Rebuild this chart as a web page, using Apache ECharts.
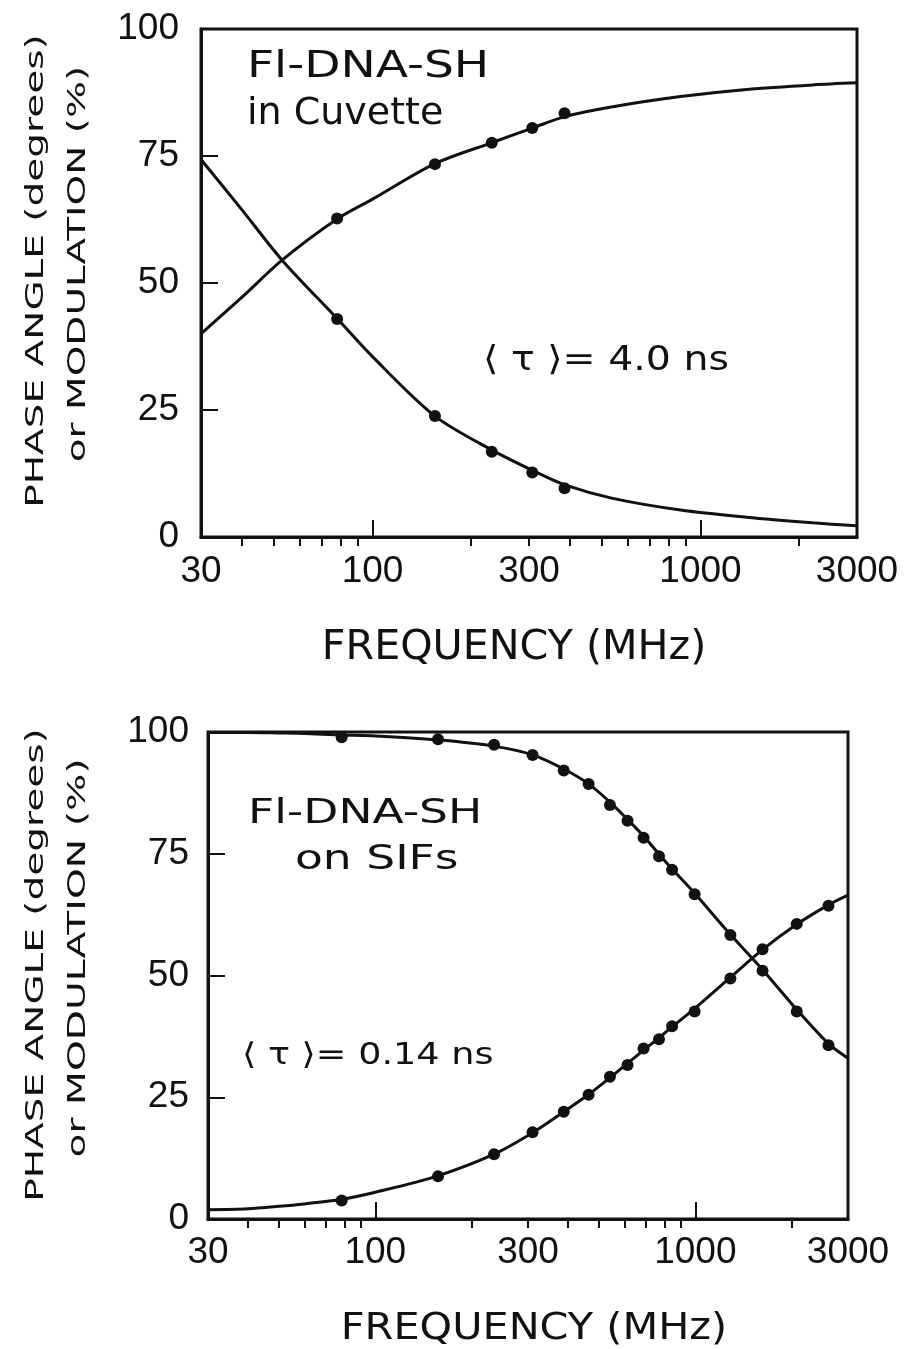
<!DOCTYPE html>
<html>
<head>
<meta charset="utf-8">
<script src="https://cdn.jsdelivr.net/npm/echarts@6.0.0/dist/echarts.min.js"></script>
<style>
  html, body { margin: 0; padding: 0; background: #fff; }
  #chart { width: 908px; height: 1349px; }
</style>
</head>
<body>
<div id="chart"></div>
<script>
// ---------- data ----------
// top panel: Fl-DNA-SH in cuvette
const TOP_CURVE_FREQ = [30, 40, 53, 78, 100, 155, 233, 310, 388, 540, 870, 1380, 2200, 3000];
const TOP_PHASE_CURVE = [40.0, 47.2, 54.5, 62.6, 66.5, 73.5, 77.7, 80.6, 82.8, 84.7, 86.7, 88.1, 89.0, 89.4];
const TOP_MOD_CURVE = [74.3, 64.4, 54.5, 43.0, 35.5, 23.8, 17.0, 13.0, 10.2, 7.6, 5.3, 3.9, 2.8, 2.2];
const TOP_DATA_FREQ = [78, 155, 231, 307, 385];
const TOP_PHASE_DATA = [62.7, 73.4, 77.6, 80.5, 83.4];
const TOP_MOD_DATA = [42.9, 23.8, 16.8, 12.7, 9.6];

// bottom panel: Fl-DNA-SH on SIFs
const BOT_CURVE_FREQ = [30, 40, 50, 60, 78, 100, 156, 235, 310, 388, 465, 541, 615, 690, 770, 848, 995, 1287, 1622, 2075, 2607, 3000];
const BOT_PHASE_CURVE = [1.9, 2.1, 2.6, 3.1, 4.0, 5.5, 8.8, 13.3, 17.7, 22.0, 25.6, 29.0, 32.0, 34.7, 37.2, 39.5, 43.2, 49.6, 55.3, 60.5, 64.5, 66.5];
const BOT_MOD_CURVE = [99.9, 99.9, 99.8, 99.7, 99.4, 99.2, 98.4, 97.1, 95.3, 92.4, 89.3, 85.6, 82.0, 78.6, 74.9, 71.8, 66.9, 58.4, 51.2, 43.0, 36.0, 33.0];
const BOT_DATA_FREQ = [78.5, 157, 235, 310, 388, 464, 541, 614, 689, 770, 846, 995, 1287, 1622, 2075, 2607];
const BOT_PHASE_DATA = [3.8, 8.8, 13.3, 17.8, 22.0, 25.5, 29.2, 31.6, 35.0, 36.9, 39.6, 42.6, 49.4, 55.4, 60.6, 64.3];
const BOT_MOD_DATA = [98.9, 98.5, 97.4, 95.3, 92.1, 89.3, 85.0, 81.8, 78.3, 74.5, 71.7, 66.7, 58.3, 51.0, 42.6, 35.7];

// axis ticks
const X_LABELS = [30, 100, 300, 1000, 3000];
const X_MAJOR_TICKS = [100, 1000];
const X_MINOR_TICKS = [40, 50, 60, 70, 80, 90, 200, 300, 400, 500, 600, 700, 800, 900, 2000];

// ---------- helpers ----------
const zip = (xs, ys) => xs.map((x, i) => [x, ys[i]]);
const INK = '#111';
const TICK_FONT = 'Liberation Sans';

function mainX(gridIndex, labelMargin) {
  return {
    type: 'log', logBase: 10, gridIndex, min: 30, max: 3000,
    axisLine: { show: true, onZero: false, lineStyle: { color: INK, width: 3 } },
    axisTick: { show: true, inside: true, length: 17, customValues: X_MAJOR_TICKS, lineStyle: { color: INK, width: 2 } },
    minorTick: { show: false },
    axisLabel: { show: true, customValues: X_LABELS, margin: labelMargin, color: INK, fontSize: 37, fontFamily: TICK_FONT,
                 formatter: v => String(Math.round(v)) },
    splitLine: { show: false }
  };
}
function minorX(gridIndex) {
  return {
    type: 'log', logBase: 10, gridIndex, min: 30, max: 3000,
    axisLine: { show: false },
    axisTick: { show: true, inside: true, length: 9, customValues: X_MINOR_TICKS, lineStyle: { color: INK, width: 2 } },
    axisLabel: { show: false },
    splitLine: { show: false }
  };
}
function yAx(gridIndex, margin) {
  return {
    type: 'value', gridIndex, min: 0, max: 100, interval: 25,
    axisLine: { show: true, onZero: false, lineStyle: { color: INK, width: 3 } },
    axisTick: { show: true, inside: true, length: 17, lineStyle: { color: INK, width: 2 } },
    axisLabel: { show: true, margin, color: INK, fontSize: 37, fontFamily: TICK_FONT, padding: [8, 0, 0, 0] },
    splitLine: { show: false }
  };
}
function curve(xi, yi, xs, ys) {
  return { type: 'line', xAxisIndex: xi, yAxisIndex: yi, data: zip(xs, ys), smooth: 0.3,
           showSymbol: false, symbol: 'none', lineStyle: { color: INK, width: 3 }, silent: true, z: 3 };
}
function dots(xi, yi, xs, ys) {
  return { type: 'scatter', xAxisIndex: xi, yAxisIndex: yi, data: zip(xs, ys), symbol: 'circle', symbolSize: 12,
           itemStyle: { color: INK, opacity: 1 }, silent: true, z: 4 };
}
function txt(x, y, text, size, opts) {
  const o = Object.assign({ align: 'left', rot: 0, sx: 1 }, opts || {});
  return {
    type: 'text', x, y, rotation: o.rot, scaleX: o.sx, z: 10, silent: true,
    style: { text, font: size + 'px "DejaVu Sans"', fill: INK,
             textAlign: o.align, align: o.align, textVerticalAlign: 'middle', verticalAlign: 'middle' }
  };
}

const chart = echarts.init(document.getElementById('chart'), null, { renderer: 'canvas', width: 908, height: 1349 });
const R90 = Math.PI / 2;

chart.setOption({
  animation: false,
  backgroundColor: '#fff',
  grid: [
    { left: 201, top: 29, width: 656, height: 508, show: true, borderColor: INK, borderWidth: 3, backgroundColor: 'transparent' },
    { left: 208, top: 732, width: 640, height: 487, show: true, borderColor: INK, borderWidth: 3, backgroundColor: 'transparent' }
  ],
  xAxis: [mainX(0, 16), minorX(0), mainX(1, 15), minorX(1)],
  yAxis: [yAx(0, 22), yAx(1, 19)],
  series: [
    curve(0, 0, TOP_CURVE_FREQ, TOP_PHASE_CURVE),
    curve(0, 0, TOP_CURVE_FREQ, TOP_MOD_CURVE),
    dots(0, 0, TOP_DATA_FREQ, TOP_PHASE_DATA),
    dots(0, 0, TOP_DATA_FREQ, TOP_MOD_DATA),
    curve(2, 1, BOT_CURVE_FREQ, BOT_PHASE_CURVE),
    curve(2, 1, BOT_CURVE_FREQ, BOT_MOD_CURVE),
    dots(2, 1, BOT_DATA_FREQ, BOT_PHASE_DATA),
    dots(2, 1, BOT_DATA_FREQ, BOT_MOD_DATA)
  ],
  graphic: [
    // y-axis titles
    txt(36, 271, 'PHASE ANGLE (degrees)', 25, { align: 'center', rot: R90, sx: 1.56 }),
    txt(78, 264, 'or MODULATION (%)', 25, { align: 'center', rot: R90, sx: 1.56 }),
    txt(36, 965, 'PHASE ANGLE (degrees)', 25, { align: 'center', rot: R90, sx: 1.56 }),
    txt(78, 958, 'or MODULATION (%)', 25, { align: 'center', rot: R90, sx: 1.57 }),
    // x-axis titles
    txt(514, 649, 'FREQUENCY (MHz)', 40, { align: 'center', sx: 1.03 }),
    txt(534, 1329, 'FREQUENCY (MHz)', 38, { align: 'center', sx: 1.09 }),
    // annotations, top
    txt(247, 67, 'Fl-DNA-SH', 38, { sx: 1.24 }),
    txt(247, 114, 'in Cuvette', 38, { sx: 1.0 }),
    txt(483, 361, '⟨ τ ⟩= 4.0 ns', 34, { sx: 1.16 }),
    // annotations, bottom
    txt(248, 814, 'Fl-DNA-SH', 34, { sx: 1.34 }),
    txt(295, 860, 'on SIFs', 34, { sx: 1.34 }),
    txt(242, 1056, '⟨ τ ⟩= 0.14 ns', 30, { sx: 1.22 })
  ]
});
</script>
</body>
</html>
